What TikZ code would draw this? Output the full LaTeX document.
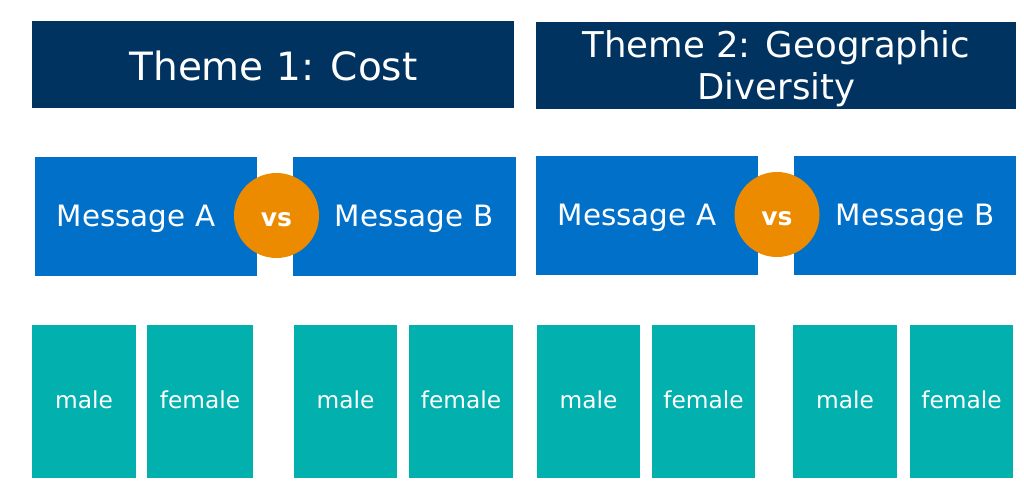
\documentclass[tikz,border=0pt]{standalone}
\usepackage{fontspec}
\setmainfont{DejaVu Sans}
\definecolor{navy}{HTML}{003360}
\definecolor{msgblue}{HTML}{0070C9}
\definecolor{vsorange}{HTML}{EC8A00}
\definecolor{teal2}{HTML}{02B0AE}
\begin{document}
\begin{tikzpicture}[x=1pt,y=-1pt,
  themetext/.style={text=white,font=\fontsize{39}{43}\selectfont,align=center,inner sep=0pt},
  msgtext/.style={text=white,font=\fontsize{29.4}{34}\selectfont,inner sep=0pt,anchor=base},
  vsdot/.style={circle,fill=vsorange,draw=none,text=white,minimum size=85pt,inner sep=0pt,text height=22.4pt,text depth=0pt,font=\fontsize{25}{30}\selectfont\bfseries},
  gentext/.style={text=white,font=\fontsize{23.3}{28}\selectfont,inner sep=0pt,anchor=base}]
\useasboundingbox (0,0) rectangle (1024,490);
% themes
\path[fill=navy] (32,21) rectangle (514,108);
\node[themetext,anchor=base] (t1) at (273.5,80) {Theme 1: Cost};
\path[fill=navy] (536,22) rectangle (1016,109);
\node[themetext,font=\fontsize{35.5}{42}\selectfont] (t2) at (776.5,68.7) {Theme 2: Geographic\\Diversity};
% messages
\path[fill=msgblue] (35,157) rectangle (257,276);
\path[fill=msgblue] (293,157) rectangle (516,276);
\path[fill=msgblue] (536,156) rectangle (758,275);
\path[fill=msgblue] (794,156) rectangle (1016,275);
\node[msgtext] (ma1) at (136,226) {Message A};
\node[msgtext] (mb1) at (414,226) {Message B};
\node[msgtext] (ma2) at (637,225) {Message A};
\node[msgtext] (mb2) at (915,225) {Message B};
\node[vsdot] (vs1) at (276.5,215.5) {vs};
\node[vsdot] (vs2) at (777,214.5) {vs};
% gender boxes
\foreach \xa/\xb/\lab/\nm in {32/136/male/g1,147/253/female/g2,294/397/male/g3,409/513/female/g4,537/640/male/g5,652/755/female/g6,793/897/male/g7,910/1013/female/g8}{
  \path[fill=teal2] (\xa,325) rectangle (\xb,478);
  \node[gentext] (\nm) at ({(\xa+\xb)/2},408) {\lab};
}
\end{tikzpicture}
\end{document}
